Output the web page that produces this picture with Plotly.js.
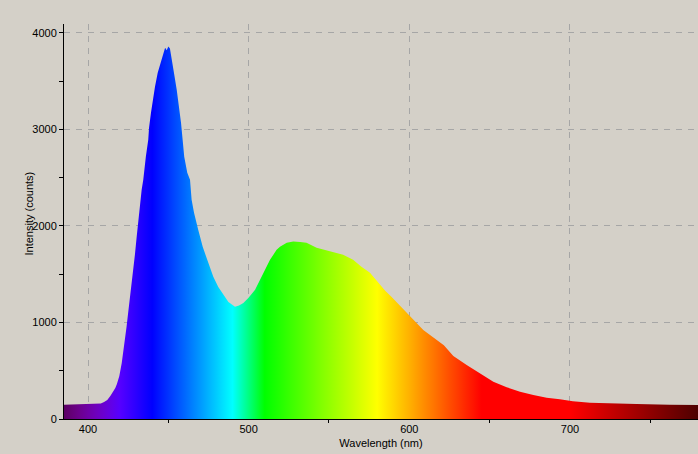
<!DOCTYPE html>
<html>
<head>
<meta charset="utf-8">
<script src="https://cdn.plot.ly/plotly-3.0.1.min.js"></script>
<style>html,body{margin:0;padding:0;background:#d4d0c8;}#chart{width:698px;height:454px;}</style>
</head>
<body>
<div id="chart"></div>
<script>
// Spectrum readings (wavelength in nm, intensity in counts)
const wavelength = [385, 390, 395, 400, 405, 408, 410, 412, 414, 416, 417, 418, 419.5, 421, 422, 423, 424, 425, 426,
  427.2, 428.2, 429.2, 430.3, 431.3, 432.4, 433.4, 434.4, 435, 436, 437.5, 438, 439.2, 440, 441.7, 443.4, 445.2, 446.5,
  447.5, 448, 449, 450, 451, 452, 453.5, 455.2, 456.8, 457.9, 458.9, 459.9, 461.8, 463.5, 464.5, 466, 468.6, 471.4,
  474.9, 478, 481.1, 484.2, 487.4, 491.5, 494, 496.7, 499.8, 504, 507, 510.1, 513.3, 517.4, 519.5, 523.7, 527.8, 532,
  536, 542.3, 547, 552.6, 558.8, 565, 570.2, 575.5, 580.6, 585, 589, 598.3, 608.7, 621.5, 627.4, 635.7, 644, 652.3,
  660.6, 668.9, 677.2, 685.5, 693.7, 701.8, 712.4, 722.8, 741.4, 762, 780];
const intensity = [148, 150, 150, 150, 152, 160, 175, 197, 240, 290, 320, 363, 446, 580, 695, 820, 955, 1100, 1234,
  1442, 1570, 1701, 1888, 2064, 2272, 2375, 2479, 2583, 2718, 2894, 3019, 3174, 3278, 3444, 3589, 3693, 3776,
  3830, 3848, 3820, 3860, 3840, 3755, 3589, 3413, 3237, 3070, 2894, 2718, 2552, 2479, 2272, 2137, 1961, 1784,
  1618, 1473, 1369, 1286, 1213, 1162, 1175, 1203, 1255, 1338, 1442, 1546, 1649, 1753, 1784, 1826, 1839, 1835,
  1826, 1774, 1755, 1732, 1701, 1649, 1577, 1515, 1411, 1330, 1265, 1100, 923, 765, 654, 560, 474, 387,
  329, 283, 249, 221, 204, 184, 169, 162, 155, 148, 145];
const xTickLabels = ['400', '500', '600', '700'];
const yTickLabels = ['0', '1000', '2000', '3000', '4000'];

// visible-spectrum colour for a wavelength (style only)
function specColor(w) {
  let r = 0, g = 0, b = 0;
  if (w < 440) { r = (440 - w) / 60; b = 1; }
  else if (w < 490) { g = (w - 440) / 50; b = 1; }
  else if (w < 510) { g = 1; b = (510 - w) / 20; }
  else if (w < 580) { r = (w - 510) / 70; g = 1; }
  else if (w < 645) { r = 1; g = (645 - w) / 65; }
  else { r = 1; }
  let f = 1;
  if (w < 420) f = 0.3 + 0.7 * (w - 380) / 40;
  else if (w > 700) f = 0.3 + 0.7 * (780 - w) / 80;
  const c = v => Math.round(Math.max(0, Math.min(1, v * f)) * 255);
  return 'rgb(' + c(r) + ',' + c(g) + ',' + c(b) + ')';
}
const lo = 385, hi = 780;
const stops = [];
for (let w = lo; w <= hi; w += 5) stops.push([(w - lo) / (hi - lo), specColor(w)]);

const trace = {
  type: 'scatter', mode: 'lines',
  x: wavelength, y: intensity,
  fill: 'tozeroy',
  line: {width: 0, color: 'rgba(0,0,0,0)'},
  fillgradient: {type: 'horizontal', colorscale: stops, start: lo, stop: hi},
  hoverinfo: 'skip'
};

const gridStyle = {showgrid: true, gridcolor: '#a6a6a6', griddash: '6px,6px', gridwidth: 1};
const layout = {
  width: 698, height: 454,
  margin: {l: 64, r: 0, t: 24, b: 35, pad: 0},
  paper_bgcolor: '#d4d0c8', plot_bgcolor: '#d4d0c8',
  showlegend: false,
  font: {family: 'Liberation Sans, Arial, sans-serif', size: 11, color: '#000'},
  xaxis: Object.assign({
    range: [385.06, 779.7],
    tickmode: 'array', tickvals: xTickLabels.map(Number), ticktext: xTickLabels,
    ticks: '', showline: true, linecolor: '#000', linewidth: 1, zeroline: false,
    minor: {tickvals: [450, 550, 650, 750], ticks: 'outside', ticklen: 3, tickcolor: '#000', showgrid: false},
    tickfont: {size: 11, color: '#000'},
    title: {text: 'Wavelength (nm)', font: {size: 11, color: '#000'}, standoff: 5}
  }, gridStyle),
  yaxis: Object.assign({
    range: [0, 4093],
    tickmode: 'array', tickvals: yTickLabels.map(Number), ticktext: yTickLabels,
    ticks: 'outside', ticklen: 4, tickcolor: '#000',
    showline: true, linecolor: '#000', linewidth: 1, zeroline: false,
    minor: {tickvals: [500, 1500, 2500, 3500], ticks: 'outside', ticklen: 4, tickcolor: '#000', showgrid: false},
    tickfont: {size: 11, color: '#000'}
  }, gridStyle),
  annotations: [{
    text: 'Intensity (counts)', textangle: -90,
    xref: 'paper', yref: 'paper', x: 0, y: 0.5, xanchor: 'center', yanchor: 'middle',
    xshift: -36, yshift: 8, showarrow: false, font: {size: 11, color: '#000'}
  }]
};

Plotly.newPlot('chart', [trace], layout, {staticPlot: true, displayModeBar: false});
</script>
</body>
</html>
